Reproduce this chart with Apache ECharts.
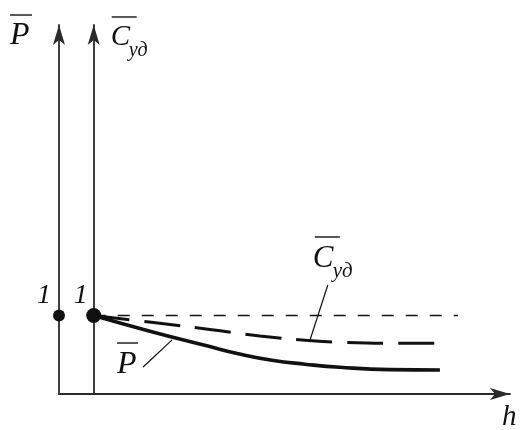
<!DOCTYPE html>
<html>
<head>
<meta charset="utf-8">
<script src="https://cdn.jsdelivr.net/npm/echarts@6/dist/echarts.min.js"></script>
<style>
  html, body { margin: 0; padding: 0; background: #fff; }
  #chart { width: 523px; height: 430px; }
</style>
</head>
<body>
<div id="chart"></div>
<script>
// Relative specific cost C_уд versus h
const hCud = [1, 2.13, 3.20, 4.35, 5.79, 7.18, 8.24, 9.54, 10.92];
const cudValues = [1, 0.94, 0.885, 0.822, 0.739, 0.682, 0.656, 0.646, 0.646];
// Relative power P versus h
const hP = [1, 2.62, 4.29, 5.20, 6.14, 7.09, 8.10, 9.54, 10.98];
const pValues = [1, 0.80, 0.61, 0.51, 0.43, 0.38, 0.34, 0.31, 0.305];
// Unit reference level and the starting points on both vertical axes
const unitLevelH = [1, 11.5];
const unitLevel = [1, 1];
const startH = [0, 1];
const startValues = [1, 1];
const tickLabels = ['1'];

const SERIF = "'Liberation Serif', 'DejaVu Serif', serif";
const INK = '#111';
const AXIS = '#2a2a2a';

const zip = (xs, ys) => xs.map((x, i) => [x, ys[i]]);

const chart = echarts.init(document.getElementById('chart'), null, { renderer: 'canvas' });

function yAxisDef(offset, margin) {
  return {
    type: 'value', position: 'left', offset: offset,
    min: 0, max: 4.7, interval: 1,
    axisLine: { show: true, onZero: false, symbol: ['none', 'arrow'], symbolSize: [9, 20],
      lineStyle: { color: AXIS, width: 1.8 } },
    axisTick: { show: false },
    splitLine: { show: false },
    axisLabel: {
      show: true, margin: margin, showMinLabel: true, showMaxLabel: false,
      formatter: v => (Math.abs(v - 1) < 1e-9 ? tickLabels[0] : ''),
      fontFamily: SERIF, fontStyle: 'italic', fontSize: 28, color: INK,
      verticalAlign: 'bottom', padding: [0, 0, 6, 0]
    }
  };
}

chart.setOption({
  animation: false,
  backgroundColor: '#fff',
  grid: { left: 59, right: 13, top: 25, bottom: 36, outerBoundsMode: 'none', containLabel: false },
  xAxis: {
    type: 'value', min: 0, max: 13,
    axisLine: { show: true, onZero: false, symbol: ['none', 'arrow'], symbolSize: [9, 20],
      lineStyle: { color: AXIS, width: 1.8 } },
    axisTick: { show: false }, axisLabel: { show: false }, splitLine: { show: false }
  },
  yAxis: [yAxisDef(0, 8), yAxisDef(-34.7, 6)],
  series: [
    {
      name: 'unit', type: 'line', yAxisIndex: 1, data: zip(unitLevelH, unitLevel),
      symbol: 'none', lineStyle: { color: INK, width: 1.3, type: [12, 12] }, z: 2
    },
    {
      name: 'Cуд', type: 'line', yAxisIndex: 1, data: zip(hCud, cudValues),
      smooth: 0.5, symbol: 'none',
      lineStyle: { color: INK, width: 3, type: [36, 15] }, z: 3
    },
    {
      name: 'P', type: 'line', yAxisIndex: 1, data: zip(hP, pValues),
      smooth: 0.5, symbol: 'none',
      lineStyle: { color: INK, width: 3.6 }, z: 3
    },
    {
      name: 'start', type: 'scatter', yAxisIndex: 1, data: zip(startH, startValues),
      symbol: 'circle', symbolSize: (v, p) => (p.dataIndex === 0 ? 12 : 15),
      itemStyle: { color: INK, opacity: 1 }, z: 5
    }
  ]
});

// value of a curve at h, linear between the listed points
function valueAt(xs, ys, h) {
  for (let i = 1; i < xs.length; i++) {
    if (h <= xs[i]) {
      const t = (h - xs[i - 1]) / (xs[i] - xs[i - 1]);
      return ys[i - 1] + t * (ys[i] - ys[i - 1]);
    }
  }
  return ys[ys.length - 1];
}

const toPx = (h, v) => chart.convertToPixel({ xAxisIndex: 0, yAxisIndex: 1 }, [h, v]);

function txt(text, x, y, size) {
  return {
    type: 'text', z: 10,
    style: { text: text, x: x, y: y, fontFamily: SERIF, fontStyle: 'italic', fontSize: size,
      fill: INK, textAlign: 'left', textVerticalAlign: 'middle' }
  };
}
function bar(x1, x2, y) {
  return { type: 'line', z: 10, shape: { x1: x1, y1: y, x2: x2, y2: y },
    style: { stroke: INK, lineWidth: 1.4 } };
}
function leader(x1, y1, x2, y2) {
  return { type: 'line', z: 10, shape: { x1: x1, y1: y1, x2: x2, y2: y2 },
    style: { stroke: INK, lineWidth: 1.2 } };
}

const origin = toPx(0, 0);
const cudAxis = toPx(1, 0);
const xEnd = toPx(13, 0);
const cudAnchor = toPx(7.23, valueAt(hCud, cudValues, 7.23));
const pAnchor = toPx(3.26, valueAt(hP, pValues, 3.26));

chart.setOption({
  graphic: [
    // axis names
    bar(origin[0] - 49, origin[0] - 27, 15), txt('P', origin[0] - 49, 36, 32),
    bar(cudAxis[0] + 18, cudAxis[0] + 43, 17), txt('C', cudAxis[0] + 17, 37, 29),
    txt('уд', cudAxis[0] + 35, 51, 20),
    txt('h', xEnd[0] - 8, 417, 29),
    // curve labels with leaders
    bar(cudAnchor[0] + 5, cudAnchor[0] + 30, 237), txt('C', cudAnchor[0] + 3, 259, 31),
    txt('уд', cudAnchor[0] + 23, 271, 21),
    leader(cudAnchor[0] + 18, 285, cudAnchor[0], cudAnchor[1]),
    bar(pAnchor[0] - 55, pAnchor[0] - 34, 343), txt('P', pAnchor[0] - 55, 365, 32),
    leader(pAnchor[0] - 29, 367, pAnchor[0], pAnchor[1] + 3)
  ]
});
</script>
</body>
</html>
